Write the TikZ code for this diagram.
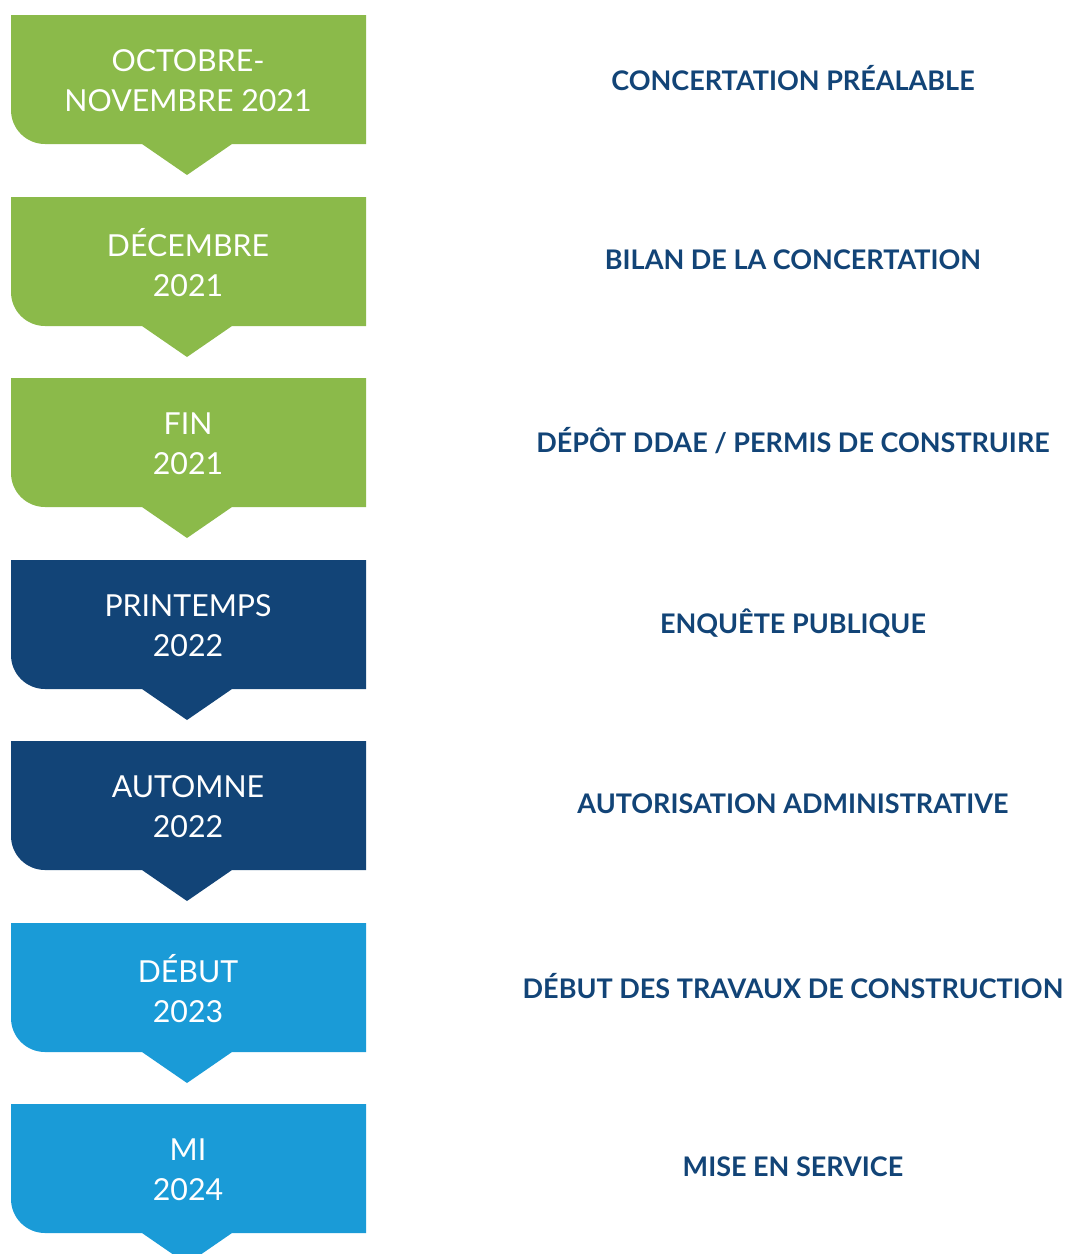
\documentclass[tikz,border=0pt]{standalone}
\usepackage{fontspec}
\setmainfont{Lato}
\definecolor{leaf}{HTML}{8BBA4A}
\definecolor{navy}{HTML}{124477}
\definecolor{sky}{HTML}{1A9BD7}
\tikzset{
  datetext/.style={text=white, align=center, font=\fontsize{30.3}{40}\selectfont, inner sep=0pt},
  phasetext/.style={text=navy, font=\fontsize{27}{30}\bfseries\selectfont, inner sep=0pt},
}
% stage tab: rounded lower-left corner and a pointer below
\newcommand\stagetab[2]{%
  \fill[#1] (11,#2) -- (366,#2) -- (366,#2+129) -- (232,#2+129) -- (187,#2+160)
    -- (142,#2+129) -- (45,#2+129) arc[start angle=90,end angle=180,radius=34] -- cycle;}
\begin{document}
\begin{tikzpicture}[x=1pt,y=-1pt]
\useasboundingbox (0,0) rectangle (1065,1254);
\clip (0,0) rectangle (1065,1254);
\stagetab{leaf}{15}
\stagetab{leaf}{197}
\stagetab{leaf}{378}
\stagetab{navy}{560}
\stagetab{navy}{741}
\stagetab{sky}{923}
\stagetab{sky}{1104}

\node[datetext] (d1) at (188,81) {OCTOBRE-\\NOVEMBRE 2021};
\node[datetext] (d2) at (188,262.5) {DÉCEMBRE\\2021};
\node[datetext] (d3) at (188,443.5) {FIN\\2021};
\node[datetext] (d4) at (188,625.5) {PRINTEMPS\\2022};
\node[datetext] (d5) at (188,806.5) {AUTOMNE\\2022};
\node[datetext] (d6) at (188,988.5) {DÉBUT\\2023};
\node[datetext] (d7) at (188,1169.5) {MI\\2024};

\node[phasetext] (p1) at (793,78) {CONCERTATION PRÉALABLE};
\node[phasetext] (p2) at (793,260) {BILAN DE LA CONCERTATION};
\node[phasetext] (p3) at (793,441) {DÉPÔT DDAE / PERMIS DE CONSTRUIRE};
\node[phasetext] (p4) at (793,623) {ENQUÊTE PUBLIQUE};
\node[phasetext] (p5) at (793,804) {AUTORISATION ADMINISTRATIVE};
\node[phasetext] (p6) at (793,986) {DÉBUT DES TRAVAUX DE CONSTRUCTION};
\node[phasetext] (p7) at (793,1167) {MISE EN SERVICE};
\end{tikzpicture}
\end{document}
